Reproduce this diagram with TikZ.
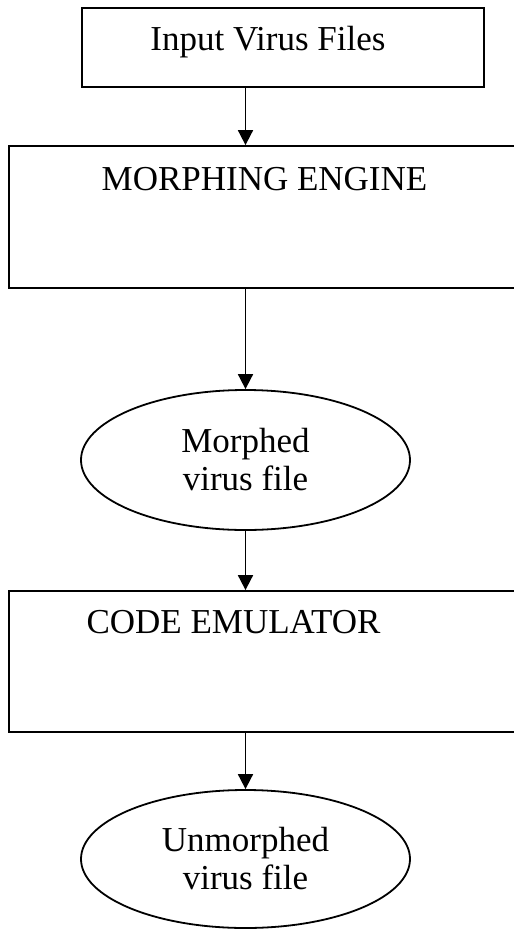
\documentclass[tikz,border=0pt]{standalone}
\usepackage{fontspec}
\setmainfont{Liberation Serif}
\usetikzlibrary{shapes.geometric,arrows.meta}
\begin{document}
\begin{tikzpicture}[x=1pt,y=-1pt,
  frame/.style={draw, line width=1.8pt, rectangle, inner sep=0pt},
  oval/.style={draw, line width=1.8pt, ellipse, inner sep=0pt,
    minimum width=329pt, minimum height=140pt, align=center,
    font=\fontsize{35}{38}\selectfont},
  caption/.style={anchor=base, inner sep=0pt, font=\fontsize{35}{42}\selectfont},
  flow/.style={line width=1.8pt, -{Triangle[length=15pt,width=15pt]}}]
\useasboundingbox (0,0) rectangle (514,930);
\clip (0,0) rectangle (514,930);

% vertical axis of the flow
\coordinate (axis) at (245.5,0);

% boxes and ovals
\node[frame, minimum width=402pt, minimum height=79pt] (input) at (283,47.5) {};
\node[caption] (inputtxt) at (268,50) {Input Virus Files};

\node[frame, minimum width=511pt, minimum height=142pt] (engine) at (264.5,217) {};
\node[caption] (enginetxt) at (264.5,190) {MORPHING ENGINE};

\node[oval] (morphed) at (245.5,460) {Morphed\\virus file};

\node[frame, minimum width=511pt, minimum height=141pt] (emulator) at (264.5,661.5) {};
\node[caption] (emulatortxt) at (233.5,633) {CODE EMULATOR};

\node[oval, minimum height=138pt] (unmorphed) at (245.5,859) {Unmorphed\\virus file};

% connectors
\draw[flow] (input.south -| axis) -- (engine.north -| axis);
\draw[flow] (engine.south -| axis) -- (morphed.north);
\draw[flow] (morphed.south) -- (emulator.north -| axis);
\draw[flow] (emulator.south -| axis) -- (unmorphed.north);
\end{tikzpicture}
\end{document}
